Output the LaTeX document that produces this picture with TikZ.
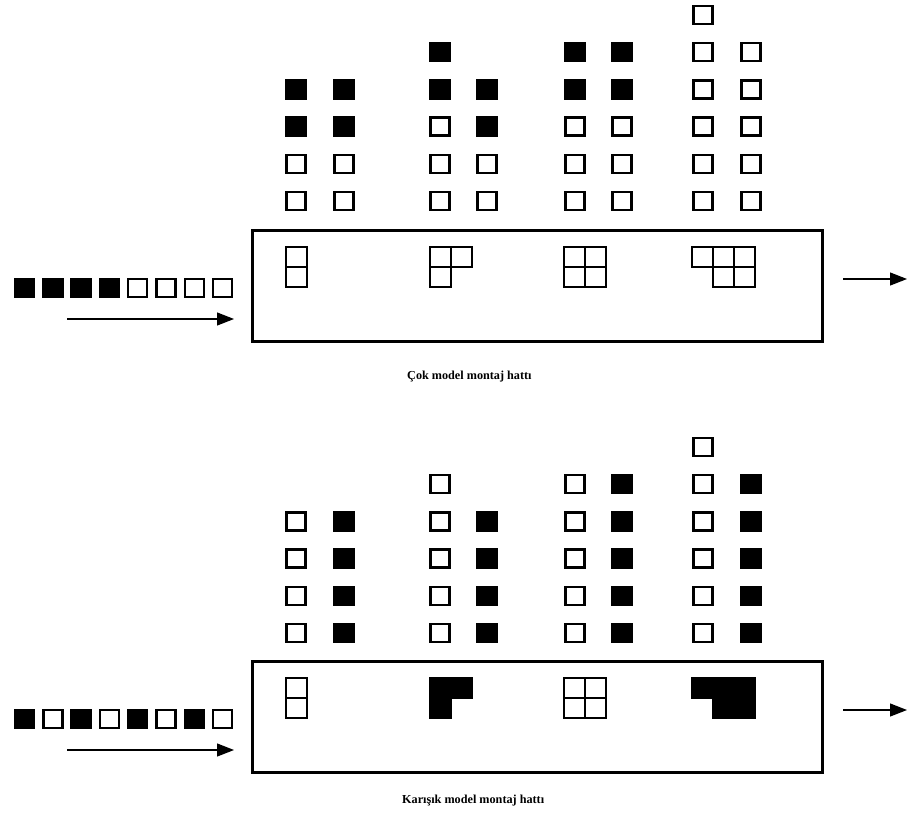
\documentclass[tikz,border=0pt]{standalone}
\usepackage{fontspec}
\setmainfont{Liberation Serif}
\usetikzlibrary{arrows.meta, positioning}

\begin{document}
\begin{tikzpicture}[
    x=1pt, y=-1pt,
    sqo/.style={rectangle, draw=black, fill=white, line width=2.4pt, minimum width=19pt, minimum height=18pt, inner sep=0pt},
    sqf/.style={rectangle, draw=black, fill=black, line width=2.4pt, minimum width=19pt, minimum height=18pt, inner sep=0pt},
    linebox/.style={rectangle, draw=black, line width=3pt, minimum width=570pt, minimum height=111pt, inner sep=0pt},
    cell/.style={draw=black, line width=2.4pt, line join=miter},
    flow/.style={-{Triangle[length=17pt, width=13pt]}, line width=1.2pt},
    caption/.style={font=\fontsize{12.2}{14}\selectfont\bfseries, anchor=base west, inner sep=0pt}
]
    \useasboundingbox (0,0) rectangle (910,816);

    % Cok model: assembly line
    \node[linebox] (hat1) at (537,285.5) {};

    % waiting models, top
    \foreach \x/\col [count=\c] in {296/{o,o,f,f}, 344/{o,o,f,f}, 440/{o,o,o,f,f}, 487/{o,o,f,f},
                                    575/{o,o,o,f,f}, 622/{o,o,o,f,f}, 703/{o,o,o,o,o,o}, 751/{o,o,o,o,o}}
        \foreach \s [count=\r] in \col
            \node[sq\s] (a\c-\r) at (\x, {201-37.2*(\r-1)}) {};

    % models on the line
    \draw[cell] (286,247) rectangle +(21,20) (286,267) rectangle +(21,20);
    \draw[cell] (430,247) rectangle +(21,20) (451,247) rectangle +(21,20) (430,267) rectangle +(21,20);
    \draw[cell] (564,247) rectangle +(21,20) (585,247) rectangle +(21,20) (564,267) rectangle +(21,20) (585,267) rectangle +(21,20);
    \draw[cell] (692,247) rectangle +(21,20) (713,247) rectangle +(21,20) (734,247) rectangle +(21,20)
                (713,267) rectangle +(21,20) (734,267) rectangle +(21,20);

    % input sequence
    \foreach \s [count=\i] in {f,f,f,f,o,o,o,o}
        \node[sq\s] (qa\i) at ({24.5+28.3*(\i-1)}, 288) {};

    \coordinate (ina1) at (67,319);
    \coordinate (ina2) at (234,319);
    \coordinate (outa1) at (843,279);
    \coordinate (outa2) at (907,279);
    \draw[flow] (ina1) -- (ina2);
    \draw[flow] (outa1) -- (outa2);

    \node[caption] (cap1) at (407,379) {Çok model montaj hattı};

    % Karisik model: assembly line
    \node[linebox] (hat2) at (537,716.5) {};

    % waiting models, bottom
    \foreach \x/\col [count=\c] in {296/{o,o,o,o}, 344/{f,f,f,f}, 440/{o,o,o,o,o}, 487/{f,f,f,f},
                                    575/{o,o,o,o,o}, 622/{f,f,f,f,f}, 703/{o,o,o,o,o,o}, 751/{f,f,f,f,f}}
        \foreach \s [count=\r] in \col
            \node[sq\s] (b\c-\r) at (\x, {633-37.2*(\r-1)}) {};

    % models on the line
    \draw[cell] (286,678) rectangle +(21,20) (286,698) rectangle +(21,20);
    \filldraw[cell, fill=black] (430,678) -- (472,678) -- (472,698) -- (451,698) -- (451,718) -- (430,718) -- cycle;
    \draw[cell] (564,678) rectangle +(21,20) (585,678) rectangle +(21,20) (564,698) rectangle +(21,20) (585,698) rectangle +(21,20);
    \filldraw[cell, fill=black] (692,678) -- (755,678) -- (755,718) -- (713,718) -- (713,698) -- (692,698) -- cycle;

    % input sequence
    \foreach \s [count=\i] in {f,o,f,o,f,o,f,o}
        \node[sq\s] (qb\i) at ({24.5+28.3*(\i-1)}, 719) {};

    \coordinate (inb1) at (67,750);
    \coordinate (inb2) at (234,750);
    \coordinate (outb1) at (843,710);
    \coordinate (outb2) at (907,710);
    \draw[flow] (inb1) -- (inb2);
    \draw[flow] (outb1) -- (outb2);

    \node[caption] (cap2) at (402,803) {Karışık model montaj hattı};

\end{tikzpicture}
\end{document}
